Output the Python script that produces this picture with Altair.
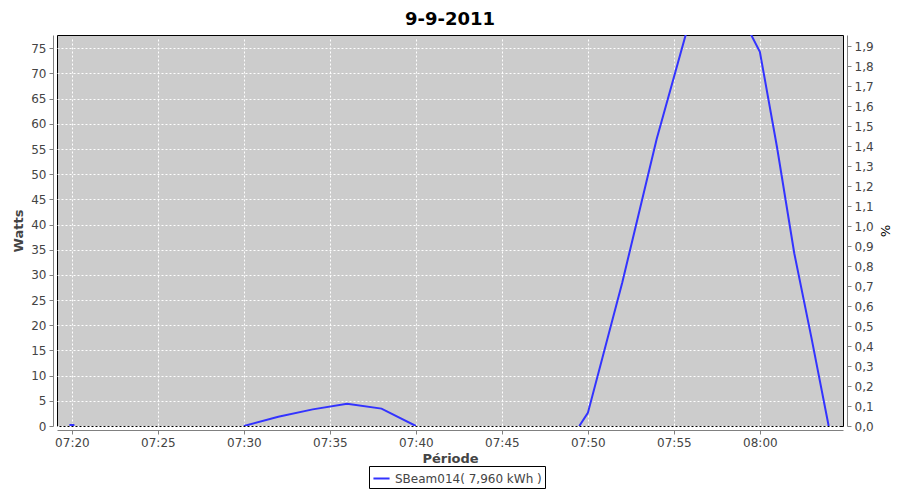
import altair as alt
import pandas as pd

# ---- data ----
times = ["07:30", "07:32", "07:34", "07:36", "07:38", "07:40",
         "07:49:30", "07:50", "07:52", "07:54", "07:56", "07:58",
         "08:00", "08:01", "08:02", "08:03", "08:04"]
watts = [0.0, 1.85, 3.3, 4.4, 3.45, 0.0,
         0.0, 2.6, 28.5, 57.0, 81.5, 87.6,
         74.3, 55.3, 34.3, 17.5, 0.0]
segment = [1, 1, 1, 1, 1, 1,
           2, 2, 2, 2, 2, 2,
           2, 2, 2, 2, 2]
dot_times = ["07:20"]
dot_watts = [0.0]

series_name = "SBeam014( 7,960 kWh )"
watt_ticks = [0, 5, 10, 15, 20, 25, 30, 35, 40, 45, 50, 55, 60, 65, 70, 75]
pct_ticks = [0.0, 0.1, 0.2, 0.3, 0.4, 0.5, 0.6, 0.7, 0.8, 0.9,
             1.0, 1.1, 1.2, 1.3, 1.4, 1.5, 1.6, 1.7, 1.8, 1.9]
time_ticks = [(7, 20), (7, 25), (7, 30), (7, 35), (7, 40), (7, 45),
              (7, 50), (7, 55), (8, 0)]

day = "2011-09-09T"
def ts(t):
    return day + (t if t.count(":") == 2 else t + ":00")

df = pd.DataFrame({
    "time": [ts(t) for t in times],
    "watts": watts,
    "seg": segment,
    "series": [series_name] * len(times),
})
dots = pd.DataFrame({"time": [ts(t) for t in dot_times], "watts": dot_watts})
pct_df = pd.DataFrame({"time": [ts("07:20")], "pct": [0.0]})

BLUE = "#3333ff"
GRAY = "#444444"
FONT = "DejaVu Sans"

def dt(h, m, s=0):
    return alt.DateTime(year=2011, month=9, date=9, hours=h, minutes=m, seconds=s)

x_scale = alt.Scale(domain=[dt(7, 19, 8), dt(8, 4, 50)])
y_domain = [0, 77.64]

x_enc = alt.X("time:T", scale=x_scale,
              axis=alt.Axis(title="Période", format="%H:%M",
                            values=[dt(h, m) for h, m in time_ticks],
                            grid=True, titlePadding=4))

line = alt.Chart(df).mark_line(strokeWidth=2, clip=True).encode(
    x=x_enc,
    y=alt.Y("watts:Q", scale=alt.Scale(domain=y_domain, nice=False, zero=False),
            axis=alt.Axis(title="Watts", values=watt_ticks, grid=True, orient="left")),
    detail="seg:N",
    color=alt.Color("series:N", scale=alt.Scale(range=[BLUE]),
                    legend=alt.Legend(title=None, orient="none", legendX=312, legendY=431,
                                      symbolType="stroke", symbolStrokeWidth=2,
                                      symbolSize=260, strokeColor="black",
                                      padding=3, labelFontSize=12, labelFont=FONT,
                                      labelColor=GRAY)),
)

dot = alt.Chart(dots).mark_tick(orient="horizontal", size=5, thickness=2,
                                color=BLUE, opacity=1, yOffset=-1).encode(
    x=alt.X("time:T"),
    y=alt.Y("watts:Q", scale=alt.Scale(domain=y_domain, nice=False, zero=False),
            axis=None),
)

right = alt.Chart(pct_df).mark_point(opacity=0).encode(
    x=alt.X("time:T"),
    y=alt.Y("pct:Q", scale=alt.Scale(domain=[0, 1.955], nice=False),
            axis=alt.Axis(title="%", orient="right", values=pct_ticks, grid=False,
                          labelExpr="replace(format(datum.value, '.1f'), '.', ',')",
                          titleFontWeight="normal", titleColor="black",
                          titlePadding=4))
)

chart = alt.layer(line, dot, right).resolve_scale(y="independent").properties(
    width=786, height=391,
    title=alt.TitleParams("9-9-2011", fontSize=18, font=FONT, fontWeight="bold",
                          color="black", anchor="middle", offset=6),
    autosize=alt.AutoSizeParams(type="none"),
    padding={"left": 49, "top": 27, "right": 49, "bottom": 64},
    background="white",
).configure_view(
    fill="#cccccc", stroke="black", strokeWidth=1
).configure_axis(
    labelFont=FONT, labelFontSize=12, labelColor=GRAY,
    titleFont=FONT, titleFontSize=13, titleFontWeight="bold", titleColor=GRAY,
    domainColor="#808080", tickColor="#808080", tickSize=4, offset=4,
    labelPadding=3, titlePadding=5,
    gridColor="white", gridDash=[2, 2], gridOpacity=1, gridWidth=1,
)

chart.save("out.html", embed_options={"renderer": "svg", "actions": False})
